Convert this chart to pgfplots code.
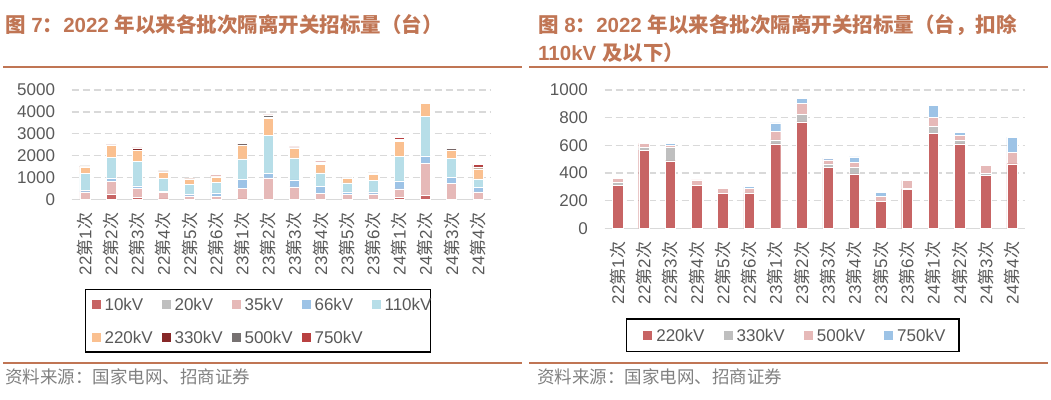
\documentclass[border=0pt]{standalone}
\usepackage{pgfplots}
\pgfplotsset{compat=1.18}
\usepackage{pgfplotstable}
\usepackage{fontspec}
\setmainfont{Liberation Sans}
\newfontfamily\cjk{Noto Sans CJK SC}

\definecolor{c10}{RGB}{199,100,100}
\definecolor{c20}{RGB}{191,191,191}
\definecolor{c35}{RGB}{230,185,184}
\definecolor{c66}{RGB}{157,195,230}
\definecolor{c110}{RGB}{183,222,232}
\definecolor{c220}{RGB}{250,192,144}
\definecolor{c330}{RGB}{135,40,40}
\definecolor{c500}{RGB}{118,113,113}
\definecolor{c750}{RGB}{185,65,65}
\definecolor{titlec}{RGB}{192,117,84}
\definecolor{labelgray}{RGB}{89,89,89}
\definecolor{gridgray}{RGB}{217,217,217}
\definecolor{srcgray}{RGB}{128,128,128}

\pgfplotstableread{
x v10 v20 v35 v66 v110 v220 v330 v500 v750
0 0 0 335 76 762 310 22 28 0
1 229 0 579 168 930 566 17 31 0
2 76 0 427 107 1128 487 96 19 12
3 20 0 285 61 579 310 3 37 0
4 0 0 152 61 472 251 3 33 0
5 0 0 137 152 488 253 4 31 14
6 20 0 488 396 945 610 29 63 60
7 0 0 975 213 1737 769 53 82 34
8 0 0 564 320 1006 443 22 29 14
9 0 0 274 305 625 393 46 36 41
10 0 0 229 107 412 195 0 34 29
11 0 0 244 91 533 284 3 58 0
12 76 0 396 366 1113 689 46 67 87
13 168 0 1478 335 1814 610 24 39 22
14 0 0 733 260 870 381 14 60 0
15 0 0 336 198 397 467 0 84 108
}\lefttab

\pgfplotstableread{
x a220 a330 a500 a750
0 310 22 28 0
1 566 17 31 0
2 487 96 19 12
3 310 3 37 0
4 251 3 33 0
5 253 4 31 14
6 610 29 63 60
7 769 53 82 34
8 443 22 29 14
9 393 46 36 41
10 195 0 34 29
11 284 3 58 0
12 689 46 67 87
13 610 24 39 22
14 381 14 60 0
15 467 0 84 108
}\righttab

\pgfplotsset{
  sq/.style={draw=white, line width=0.4pt,
    legend image code/.code={\draw[##1,draw=none] (0pt,-4.5pt) rectangle (9pt,4.5pt);}},
  mybars/.style={
    ybar stacked, scale only axis, anchor=south west,
    xmin=-0.5, xmax=15.5, ymin=0,
    xtick={0,...,15},
    xticklabels={22{\cjk 第}1{\cjk 次},22{\cjk 第}2{\cjk 次},22{\cjk 第}3{\cjk 次},22{\cjk 第}4{\cjk 次},22{\cjk 第}5{\cjk 次},22{\cjk 第}6{\cjk 次},23{\cjk 第}1{\cjk 次},23{\cjk 第}2{\cjk 次},23{\cjk 第}3{\cjk 次},23{\cjk 第}4{\cjk 次},23{\cjk 第}5{\cjk 次},23{\cjk 第}6{\cjk 次},24{\cjk 第}1{\cjk 次},24{\cjk 第}2{\cjk 次},24{\cjk 第}3{\cjk 次},24{\cjk 第}4{\cjk 次}},
    axis x line*=bottom, axis y line*=left,
    x axis line style={draw=gridgray, line width=1.6pt},
    y axis line style={draw=none},
    tick style={draw=none},
    ymajorgrids,
    major grid style={draw=gridgray, line width=1.3pt, dash pattern=on 7pt off 4pt},
    tick label style={font=\fontsize{17}{17}\selectfont, text=labelgray},
    yticklabel style={inner sep=0pt, anchor=east},
    xticklabel style={rotate=90, anchor=east, inner sep=0pt},
    /pgf/number format/assume math mode=true,
    /pgf/number format/1000 sep={},
    scaled y ticks=false,
    legend cell align=left,
    legend style={draw=black, line width=1.2pt, fill=white,
      font=\fontsize{17}{17}\selectfont, text=labelgray,
      nodes={inner sep=0pt, text depth=0pt},
      column sep=0pt, anchor=north west},
  }
}

\begin{document}
\begin{tikzpicture}
\path[use as bounding box] (0pt,0pt) rectangle (1051pt,399pt);

% titles
\node[anchor=base west, inner sep=0, font=\fontsize{20.5}{24}\selectfont\bfseries, text=titlec] at (5pt,366.3pt)
  {{\cjk 图} 7{\cjk ：}2022 {\cjk 年以来各批次隔离开关招标量（台）}};
\node[anchor=base west, inner sep=0, font=\fontsize{20.5}{24}\selectfont\bfseries, text=titlec] at (538pt,366.3pt)
  {{\cjk 图} 8{\cjk ：}2022 {\cjk 年以来各批次隔离开关招标量（台，扣除}};
\node[anchor=base west, inner sep=0, font=\fontsize{20.5}{24}\selectfont\bfseries, text=titlec] at (538pt,338pt)
  {110kV {\cjk 及以下）}};
\draw[titlec, line width=2pt] (3pt,332.3pt) -- (522pt,332.3pt);
\draw[titlec, line width=2pt] (529pt,332.3pt) -- (1048pt,332.3pt);
\draw[titlec, line width=2pt] (3pt,36.3pt) -- (522pt,36.3pt);
\draw[titlec, line width=2pt] (529pt,36.3pt) -- (1048pt,36.3pt);
\node[anchor=base west, inner sep=0, font=\cjk\fontsize{17.5}{20}\selectfont, text=srcgray] at (5pt,16pt) {资料来源：国家电网、招商证券};
\node[anchor=base west, inner sep=0, font=\cjk\fontsize{17.5}{20}\selectfont, text=srcgray] at (537pt,16pt) {资料来源：国家电网、招商证券};

% left chart
\begin{axis}[mybars,
  at={(71.7pt,199.7pt)}, width=419.2pt, height=109.3pt,
  ymax=5000, ytick={0,1000,...,5000}, bar width=10pt,
  xticklabel shift=13.4pt, yticklabel shift=16.5pt,
  legend columns=5,
  legend style={at={(0.0317,-0.8207)}, inner xsep=6pt, inner ysep=8.5pt, row sep=20.8pt},
]
\addplot[sq, fill=c10] table[x=x,y=v10]{\lefttab};
\addlegendentry{\makebox[61pt][l]{\hspace{4pt}10kV}}
\addplot[sq, fill=c20] table[x=x,y=v20]{\lefttab};
\addlegendentry{\makebox[61pt][l]{\hspace{4pt}20kV}}
\addplot[sq, fill=c35] table[x=x,y=v35]{\lefttab};
\addlegendentry{\makebox[61pt][l]{\hspace{4pt}35kV}}
\addplot[sq, fill=c66] table[x=x,y=v66]{\lefttab};
\addlegendentry{\makebox[61pt][l]{\hspace{4pt}66kV}}
\addplot[sq, fill=c110] table[x=x,y=v110]{\lefttab};
\addlegendentry{\makebox[44pt][l]{\hspace{4pt}110kV}}
\addplot[sq, fill=c220] table[x=x,y=v220]{\lefttab};
\addlegendentry{\makebox[61pt][l]{\hspace{4pt}220kV}}
\addplot[sq, fill=c330] table[x=x,y=v330]{\lefttab};
\addlegendentry{\makebox[61pt][l]{\hspace{4pt}330kV}}
\addplot[sq, fill=c500] table[x=x,y=v500]{\lefttab};
\addlegendentry{\makebox[61pt][l]{\hspace{4pt}500kV}}
\addplot[sq, fill=c750] table[x=x,y=v750]{\lefttab};
\addlegendentry{\makebox[61pt][l]{\hspace{4pt}750kV}}
\end{axis}

% right chart
\begin{axis}[mybars,
  at={(604.5pt,170.7pt)}, width=420.8pt, height=138.3pt,
  ymax=1000, ytick={0,200,...,1000}, bar width=10.5pt,
  xticklabel shift=13.4pt, yticklabel shift=16.5pt,
  legend columns=4,
  legend style={at={(0.0511,-0.6508)}, inner xsep=16.7pt, inner ysep=10.1pt},
]
\addplot[sq, fill=c10] table[x=x,y=a220]{\righttab};
\addlegendentry{\makebox[71.3pt][l]{\hspace{4pt}220kV}}
\addplot[sq, fill=c20] table[x=x,y=a330]{\righttab};
\addlegendentry{\makebox[71.3pt][l]{\hspace{4pt}330kV}}
\addplot[sq, fill=c35] table[x=x,y=a500]{\righttab};
\addlegendentry{\makebox[71.3pt][l]{\hspace{4pt}500kV}}
\addplot[sq, fill=c66] table[x=x,y=a750]{\righttab};
\addlegendentry{\makebox[49pt][l]{\hspace{4pt}750kV}}
\end{axis}
\end{tikzpicture}
\end{document}
